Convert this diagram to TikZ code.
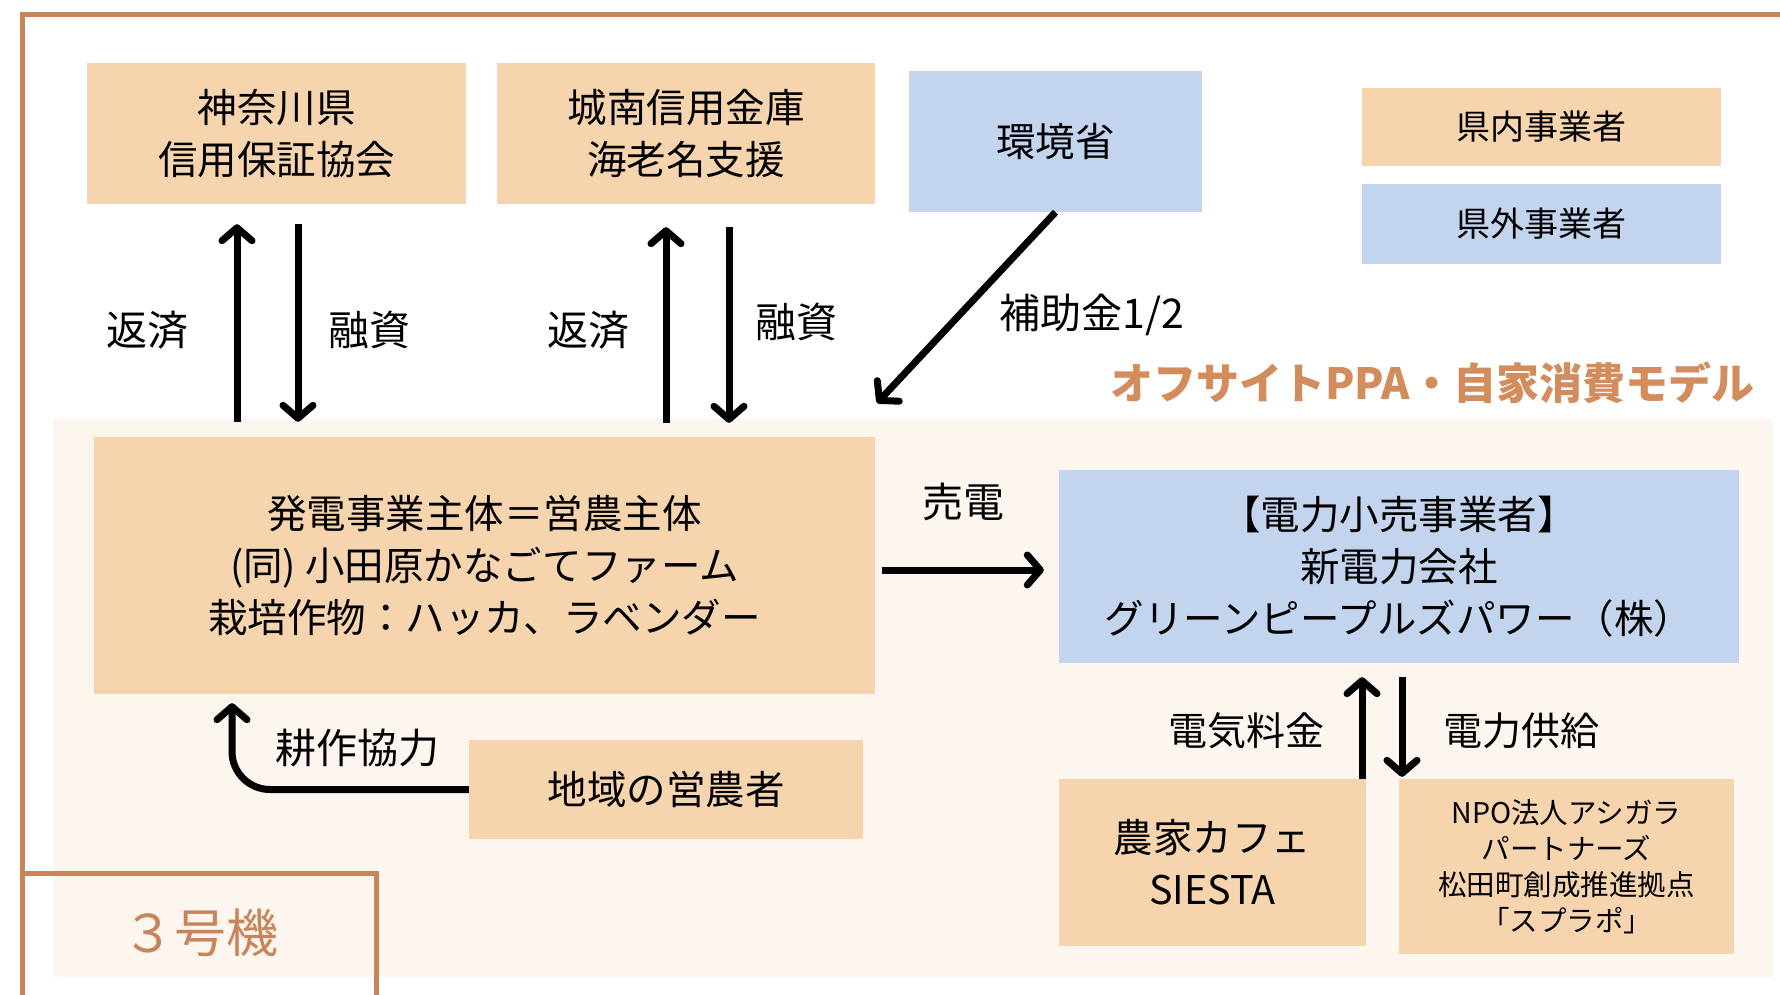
\documentclass[tikz,border=0pt]{standalone}
\usepackage{fontspec}
\setmainfont{Noto Sans CJK JP}
\usepackage{tikz}
\usetikzlibrary{arrows.meta}
\tikzset{>={Straight Barb[length=13pt,width=30pt,round]}}
\definecolor{peach}{HTML}{F6D5AE}
\definecolor{skyblue}{HTML}{C3D4EF}
\definecolor{rust}{HTML}{C8845A}
\definecolor{cream}{HTML}{FDF6EF}
\definecolor{titleorange}{HTML}{D38C5C}

\begin{document}
\begin{tikzpicture}[x=1pt, y=-1pt,
    box/.style={fill=peach, inner sep=0pt, align=center, font=\fontsize{39.5}{52}\selectfont},
    bluebox/.style={box, fill=skyblue},
    flow/.style={->, line width=7pt},
    lbl/.style={font=\fontsize{41}{48}\selectfont}]
  \useasboundingbox (0,0) rectangle (1780,995);
  \fill[cream] (53,419) rectangle (1773,977);
  \draw[rust, line width=5pt] (22,873) -- (22,15) -- (1790,15);
  \draw[rust, line width=5pt] (22,1010) -- (22,873) -- (376,873) -- (376,1010);
  \node[text=rust, font=\fontsize{52}{60}\selectfont] (gouki) at (200,933) {３号機};

  \node[box, minimum width=379pt, minimum height=141pt] (kanagawa) at (276.5,133.5) {神奈川県\\信用保証協会};
  \node[box, minimum width=378pt, minimum height=141pt] (jonan) at (686,133.5) {城南信用金庫\\海老名支援};
  \node[bluebox, minimum width=293pt, minimum height=141pt] (kankyo) at (1055.5,141.5) {環境省};
  \node[box, minimum width=359pt, minimum height=78pt, font=\fontsize{34}{40}\selectfont] (kennai) at (1541.5,127) {県内事業者};
  \node[bluebox, minimum width=359pt, minimum height=80pt, font=\fontsize{34}{40}\selectfont] (kengai) at (1541.5,224) {県外事業者};

  \node[text=titleorange, font=\fontsize{43}{50}\selectfont\bfseries] (title) at (1432,383) {オフサイトPPA・自家消費モデル};

  \node[box, minimum width=781pt, minimum height=257pt] (hatsuden) at (484.5,565.5) {発電事業主体＝営農主体\\(同) 小田原かなごてファーム\\栽培作物：ハッカ、ラベンダー};
  \node[bluebox, minimum width=680pt, minimum height=193pt] (denryoku) at (1399,566.5) {【電力小売事業者】\\新電力会社\\グリーンピープルズパワー（株）};
  \node[box, minimum width=394pt, minimum height=99pt] (noka) at (666,789.5) {地域の営農者};
  \node[box, minimum width=307pt, minimum height=167pt] (cafe) at (1212.5,862.5) {農家カフェ\\SIESTA};
  \node[box, minimum width=335pt, minimum height=175pt, font=\fontsize{28.5}{36}\selectfont] (npo) at (1566.5,866.5) {NPO法人アシガラ\\パートナーズ\\松田町創成推進拠点\\「スプラポ」};

  \draw[flow, shorten <=15pt, shorten >=20pt] (237,0 |- hatsuden.north) -- (237,0 |- kanagawa.south);
  \draw[flow, shorten <=20pt, shorten >=15pt] (298,0 |- kanagawa.south) -- (298,0 |- hatsuden.north);
  \draw[flow, shorten <=14pt, shorten >=23pt] (666,0 |- hatsuden.north) -- (666,0 |- jonan.south);
  \draw[flow, shorten <=23pt, shorten >=14pt] (729,0 |- jonan.south) -- (729,0 |- hatsuden.north);
  \node[lbl] (hensai1) at (147,330) {返済};
  \node[lbl] (yushi1) at (369,330) {融資};
  \node[lbl] (hensai2) at (588,330) {返済};
  \node[lbl] (yushi2) at (796,322) {融資};

  \coordinate (hojo) at (877,403);
  \draw[flow] (kankyo.south) -- (hojo);
  \node[lbl, anchor=west] (hojokin) at (996,315) {補助金1/2};

  \draw[flow, shorten <=7pt, shorten >=15pt] ([yshift=-4.5pt]hatsuden.east) -- ([yshift=-4.5pt]hatsuden.east -| denryoku.west);
  \node[lbl] (baiden) at (963,502) {売電};

  \draw[flow, shorten >=14pt] (1362,0 |- cafe.north) -- (1362,0 |- denryoku.south);
  \draw[flow, shorten <=14pt, shorten >=2pt] (1402,0 |- denryoku.south) -- (1402,0 |- npo.north);
  \node[lbl, font=\fontsize{39}{46}\selectfont] (ryokin) at (1246,731) {電気料金};
  \node[lbl, font=\fontsize{39}{46}\selectfont] (kyokyu) at (1521,731) {電力供給};

  \draw[flow, rounded corners=38pt, shorten >=9pt] (noka.west) -- (232,0 |- noka.west) -- (232,0 |- hatsuden.south);
  \node[lbl] (kosaku) at (357,748) {耕作協力};
\end{tikzpicture}
\end{document}
